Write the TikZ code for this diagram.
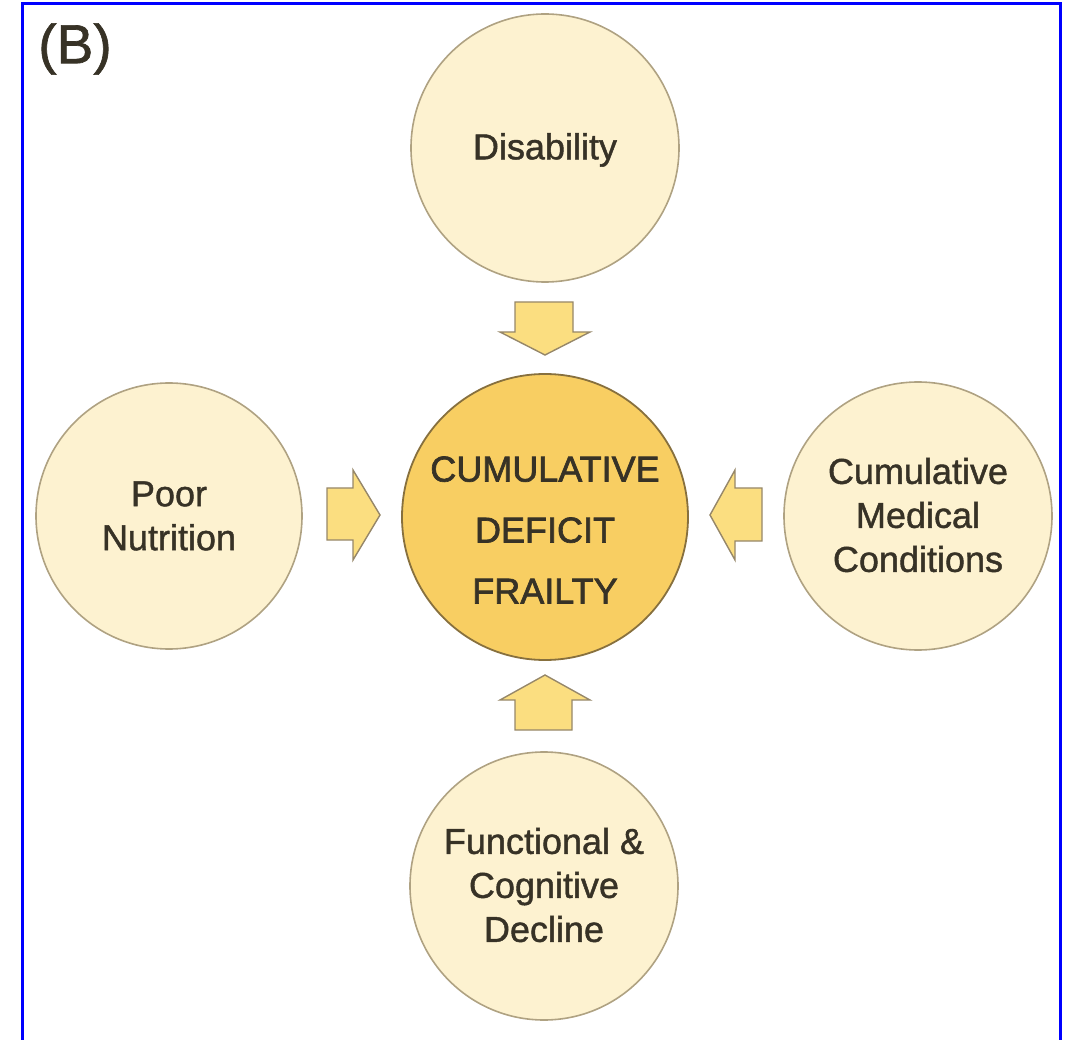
\documentclass[tikz,border=0pt]{standalone}
\usepackage{fontspec}
\setmainfont{Liberation Sans}
\newfontfamily\heavyfont[FakeBold=1.2]{Liberation Sans}
\newfontfamily\heavierfont[FakeBold=1.8]{Liberation Sans}
\definecolor{outerfill}{RGB}{253,242,208}
\definecolor{outerdraw}{RGB}{175,162,130}
\definecolor{centerfill}{RGB}{248,206,98}
\definecolor{centerdraw}{RGB}{135,112,62}
\definecolor{arrowfill}{RGB}{251,222,128}
\definecolor{arrowdraw}{RGB}{150,135,105}
\definecolor{txt}{RGB}{55,50,38}
\definecolor{frameblue}{RGB}{0,0,255}
\begin{document}
\begin{tikzpicture}[x=1pt,y=-1pt,
  outer/.style={circle,draw=outerdraw,fill=outerfill,line width=1.6pt,minimum size=#1,inner sep=0pt},
  inner/.style={circle,draw=centerdraw,fill=centerfill,line width=1.8pt,minimum size=286pt,inner sep=0pt},
  lbl/.style={align=center,text=txt,font=\heavyfont\fontsize{36}{44}\selectfont},
  clbl/.style={align=center,text=txt,font=\heavierfont\fontsize{36}{61}\selectfont},
  blockarrow/.style={fill=arrowfill,draw=arrowdraw,line width=1.4pt,line join=miter}]
\useasboundingbox (0,0) rectangle (1069,1040);
% frame
\draw[frameblue,line width=3pt] (22,1041) -- (22,4) -- (1060,4) -- (1060,1041);
\node[text=txt,font=\heavyfont\fontsize{55}{62}\selectfont,anchor=center] (tag) at (75,49) {(B)};
% circles
\node[outer=268pt] (dis) at (545,148) {};
\node[lbl] (distxt) at (545,150) {Disability};
\node[outer=266pt] (nut) at (169,516) {};
\node[lbl] (nuttxt) at (169,516) {Poor\\Nutrition};
\node[outer=268pt] (med) at (918,516) {};
\node[lbl] (medtxt) at (918,515) {Cumulative\\Medical\\Conditions};
\node[outer=268pt] (fun) at (544,886) {};
\node[lbl] (funtxt) at (544,885) {Functional \&\\Cognitive\\Decline};
\node[inner] (cdf) at (545,517) {};
\node[clbl] (cdftxt) at (545,530) {CUMULATIVE\\DEFICIT\\FRAILTY};
% block arrows
\draw[blockarrow] (515,302) -- (573,302) -- (573,332) -- (590,332) -- (545,355) -- (500,332) -- (515,332) -- cycle;
\draw[blockarrow] (515,730) -- (572,730) -- (572,700) -- (590,700) -- (545,675) -- (500,700) -- (515,700) -- cycle;
\draw[blockarrow] (327,488) -- (353,488) -- (353,470) -- (380,515) -- (353,560) -- (353,540) -- (327,540) -- cycle;
\draw[blockarrow] (762,488) -- (735,488) -- (735,470) -- (710,515) -- (735,560) -- (735,541) -- (762,541) -- cycle;
\end{tikzpicture}
\end{document}
